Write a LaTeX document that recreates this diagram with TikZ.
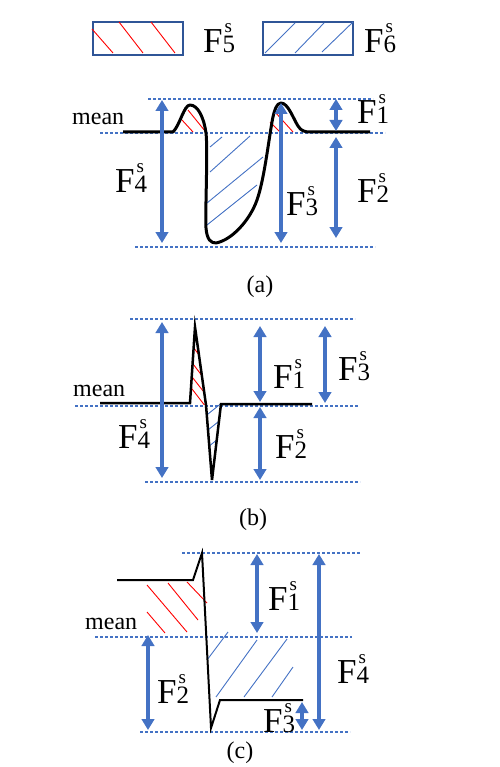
\documentclass[tikz,border=0pt]{standalone}
\usepackage{fontspec}
\setmainfont{Liberation Serif}
\usetikzlibrary{arrows.meta}
\definecolor{lblue}{HTML}{4472C4}
\definecolor{dblue}{HTML}{2F5597}
\newcommand\Fs[1]{F\rlap{\hspace{2pt}\raisebox{20pt}{\fontsize{19}{19}\selectfont s}}{\fontsize{25}{25}\selectfont #1}}
\begin{document}
\begin{tikzpicture}[x=1pt,y=-1pt,
 dotline/.style={lblue, line width=2.8pt, dash pattern=on 2.8pt off 2.2pt},
 dim/.style={lblue, line width=3.2pt, {Triangle[length=11pt,width=12.5pt]}-{Triangle[length=11pt,width=12.5pt]}},
 lab/.style={inner sep=0pt, anchor=base west, font=\fontsize{35}{35}\selectfont},
 txt/.style={inner sep=0pt, anchor=base west, font=\fontsize{24}{24}\selectfont},
 captxt/.style={inner sep=0pt, anchor=base, font=\fontsize{24}{24}\selectfont},
 rh/.style={red, line width=0.9pt},
 bh/.style={lblue, line width=0.9pt},
 legbox/.style={draw=dblue, line width=2pt, minimum width=90pt, minimum height=33pt, anchor=north west, inner sep=0pt}]
\useasboundingbox (0,0) rectangle (499,767);
% legend
\node[legbox] (box5) at (92,21) {};
\node[legbox] (box6) at (262,21) {};
\draw[rh] (92,29) -- (113,53) (119,22) -- (143,53) (151,22) -- (175,53);
\draw[bh] (265,53) -- (295,23) (295,53) -- (324,23) (322,52) -- (353,22);
\node[lab] (l5) at (203,53) {\Fs{5}};
\node[lab] (l6) at (364,53) {\Fs{6}};
% ===== panel (a)
\coordinate (a1) at (148,99); \coordinate (a2) at (373,99);
\coordinate (a3) at (100,133); \coordinate (a4) at (385,133);
\coordinate (a5) at (135,247); \coordinate (a6) at (375,247);
\draw[dotline] (a1) -- (a2);
\draw[dotline] (a3) -- (a4);
\draw[dotline] (a5) -- (a6);
\draw[rh] (182,120) -- (193,132) (188,110) -- (205,131) (270,122) -- (280,132) (275,112) -- (293,132);
\draw[bh] (210,147) -- (222,137) (210,172) -- (250,136) (207,203) -- (263,157) (207,225) -- (257,185);
\draw[black, line width=3pt, line join=round] (123,132) -- (173,132) .. controls (180,125) and (184,105) .. (190,105) .. controls (198,105) and (204,118) .. (206,133) .. controls (208,150) and (205,215) .. (206,228) .. controls (207,240) and (211,243) .. (216,243) .. controls (232,240) and (250,220) .. (257,200) .. controls (264,180) and (268,145) .. (272,122) .. controls (274,110) and (277,103) .. (281,103) .. controls (288,103) and (293,118) .. (298,126) .. controls (301,131) and (305,132) .. (310,132) -- (370,132);
\coordinate (aF4t) at (162,100); \coordinate (aF4b) at (162,243);
\coordinate (aF3t) at (281,103); \coordinate (aF3b) at (281,243);
\coordinate (aF1t) at (336,99); \coordinate (aF1b) at (336,131);
\coordinate (aF2t) at (336,137); \coordinate (aF2b) at (336,238);
\draw[dim] (aF4t) -- (aF4b);
\draw[dim] (aF3t) -- (aF3b);
\draw[dim] (aF1t) -- (aF1b);
\draw[dim] (aF2t) -- (aF2b);
\node[txt] (ameant) at (72,125) {mean};
\node[lab] (aL4) at (115,193) {\Fs{4}};
\node[lab] (aL3) at (286,215) {\Fs{3}};
\node[lab] (aL1) at (357,124) {\Fs{1}};
\node[lab] (aL2) at (357,203) {\Fs{2}};
\node[captxt] (capa) at (260,292) {(a)};
% ===== panel (b)
\coordinate (b1) at (130,319); \coordinate (b2) at (355,319);
\coordinate (b3) at (75,406); \coordinate (b4) at (358,406);
\coordinate (b5) at (145,482); \coordinate (b6) at (360,482);
\draw[dotline] (b1) -- (b2);
\draw[dotline] (b3) -- (b4);
\draw[dotline] (b5) -- (b6);
\begin{scope}
\clip (190,403) -- (195,327) -- (206,405) -- cycle;
\draw[rh] (190,343) -- ++(16,21) (190,360) -- ++(16,21) (189,373) -- ++(18,23) (189,385) -- ++(20,26);
\end{scope}
\begin{scope}
\clip (206,405) -- (212,480) -- (221,404) -- cycle;
\draw[bh] (203,418) -- ++(20,-16) (203,434) -- ++(20,-16) (203,451) -- ++(20,-16);
\end{scope}
\draw[black, line width=2.5pt] (100,403) -- (190,403) -- (195,327) -- (206,405) -- (212,480) -- (221,404) -- (312,404);
\coordinate (bF4t) at (162,322); \coordinate (bF4b) at (162,478);
\coordinate (bF1t) at (260,326); \coordinate (bF1b) at (260,402);
\coordinate (bF2t) at (260,407); \coordinate (bF2b) at (260,480);
\coordinate (bF3t) at (325,326); \coordinate (bF3b) at (325,403);
\draw[dim] (bF4t) -- (bF4b);
\draw[dim] (bF1t) -- (bF1b);
\draw[dim] (bF2t) -- (bF2b);
\draw[dim] (bF3t) -- (bF3b);
\node[txt] (bmeant) at (73,396) {mean};
\node[lab] (bL4) at (118,448) {\Fs{4}};
\node[lab] (bL1) at (273,388) {\Fs{1}};
\node[lab] (bL3) at (338,380) {\Fs{3}};
\node[lab] (bL2) at (275,458) {\Fs{2}};
\node[captxt] (capb) at (253,525) {(b)};
% ===== panel (c)
\coordinate (c1) at (182,553); \coordinate (c2) at (360,553);
\coordinate (c3) at (95,637); \coordinate (c4) at (352,637);
\coordinate (c5) at (140,732); \coordinate (c6) at (350,732);
\draw[dotline] (c1) -- (c2);
\draw[dotline] (c3) -- (c4);
\draw[dotline] (c5) -- (c6);
\draw[rh] (147,585) -- (187,632) (168,583) -- (198,620) (187,582) -- (207,603) (147,612) -- (165,633);
\draw[bh] (207,660) -- (228,632) (216,697) -- (257,640) (244,697) -- (287,639) (272,697) -- (293,667);
\draw[black, line width=2pt] (117,580) -- (193,580) -- (202,553) -- (211,728) -- (220,700) -- (303,700);
\coordinate (cF1t) at (257,554); \coordinate (cF1b) at (257,633);
\coordinate (cF4t) at (319,554); \coordinate (cF4b) at (319,730);
\coordinate (cF2t) at (148,635); \coordinate (cF2b) at (148,730);
\coordinate (cF3t) at (302,702); \coordinate (cF3b) at (302,730);
\draw[dim] (cF1t) -- (cF1b);
\draw[dim] (cF4t) -- (cF4b);
\draw[dim] (cF2t) -- (cF2b);
\draw[dim] (cF3t) -- (cF3b);
\node[txt] (cmeant) at (85,629) {mean};
\node[lab] (cL1) at (268,610) {\Fs{1}};
\node[lab] (cL4) at (337,683) {\Fs{4}};
\node[lab] (cL2) at (157,703) {\Fs{2}};
\node[lab] (cL3) at (263,732) {\Fs{3}};
\node[captxt] (capc) at (240,758) {(c)};
\end{tikzpicture}
\end{document}
